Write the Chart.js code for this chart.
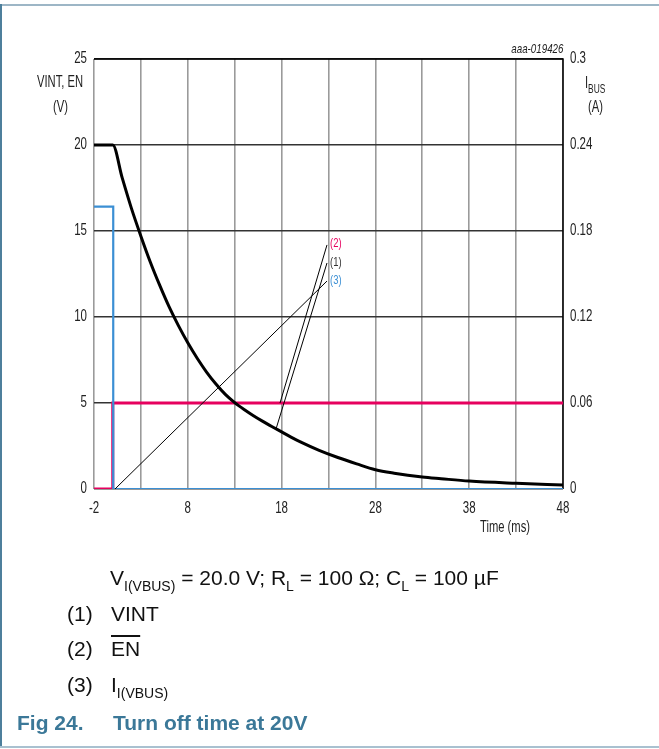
<!DOCTYPE html>
<html>
<head>
<meta charset="utf-8">
<script src="https://cdn.jsdelivr.net/npm/chart.js@4.4.0/dist/chart.umd.min.js"></script>
<style>
  html, body { margin:0; padding:0; background:#fff; }
  #wrap { position:relative; width:659px; height:749px; overflow:hidden; background:#fff; }
  #c { position:absolute; left:0; top:0; }
  .t { position:absolute; white-space:nowrap; color:#222; }
  .narrow { font-family:"Liberation Sans",Arial,sans-serif; font-size:16px; line-height:16px;
            transform:scaleX(0.7); transform-origin:left top; }
  .cap { font-family:"Liberation Sans",Arial,sans-serif; font-size:21px; line-height:21px; color:#111; }
  .cap sub { font-size:14px; vertical-align:-6px; line-height:0; }
  .fig { font-family:"Liberation Sans",Arial,sans-serif; font-weight:bold; font-size:21px; line-height:21px; color:#3b7898; }
  #topline { position:absolute; left:0; top:4px; width:659px; height:2px; background:#9db6c6; }
  #leftline { position:absolute; left:0; top:4px; width:2px; height:744px; background:#4d7f9c; }
  #botline { position:absolute; left:0; top:746px; width:659px; height:2px; background:#a9c1d0; }
</style>
</head>
<body>
<div id="wrap">
  <div id="topline"></div><div id="leftline"></div><div id="botline"></div>
  <canvas id="c" width="659" height="749"></canvas>

  <div class="t narrow" style="left:auto;right:96px;top:41px;font-style:italic;font-size:13px;transform-origin:right top;transform:scaleX(0.75);">aaa-019426</div>
  <div class="t narrow" style="left:37px;top:74px;">VINT, EN</div>
  <div class="t narrow" style="left:53px;top:99px;">(V)</div>
  <div class="t narrow" style="left:585px;top:75px;">I<span style="font-size:12px;position:relative;top:5px;">BUS</span></div>
  <div class="t narrow" style="left:588px;top:99px;">(A)</div>

  <div class="t narrow" style="left:330px;top:235px;font-size:13.5px;color:#e6005e;">(2)</div>
  <div class="t narrow" style="left:330px;top:254px;font-size:13.5px;color:#333;">(1)</div>
  <div class="t narrow" style="left:330px;top:272px;font-size:13.5px;color:#3b8fd4;">(3)</div>

  <div class="t narrow" style="left:480px;top:519px;">Time (ms)</div>

  <div class="t cap" style="left:110px;top:567px;">V<sub>I(VBUS)</sub> = 20.0 V; R<sub>L</sub> = 100 Ω; C<sub>L</sub> = 100 µF</div>
  <div class="t cap" style="left:67px;top:603px;">(1)</div>
  <div class="t cap" style="left:111px;top:603px;">VINT</div>
  <div class="t cap" style="left:67px;top:638px;">(2)</div>
  <div class="t cap" style="left:111px;top:638px;text-decoration:overline;">EN</div>
  <div class="t cap" style="left:67px;top:674px;">(3)</div>
  <div class="t cap" style="left:111px;top:674px;">I<sub>I(VBUS)</sub></div>
  <div class="t fig" style="left:17px;top:712px;">Fig 24.</div>
  <div class="t fig" style="left:113px;top:712px;">Turn off time at 20V</div>
</div>
<script>
// ---- data ----
const timeGrid = [-2, 3, 8, 13, 18, 23, 28, 33, 38, 43, 48];
const timeLabels = [-2, 8, 18, 28, 38, 48];
const voltTicks = [0, 5, 10, 15, 20, 25];
const currTicks = [0, 0.06, 0.12, 0.18, 0.24, 0.3];

// (1) VINT  (V)
const vintTime = [-2, 0, 1, 2, 3, 4, 5, 6, 7, 8, 9, 10, 11, 12, 13, 14, 15, 16, 17, 18, 19, 20, 22, 24, 26, 28, 30, 33, 35, 38, 43, 48];
const vintVolt = [20, 20, 18.1, 16.3, 14.7, 13.2, 11.85, 10.6, 9.5, 8.5, 7.6, 6.8, 6.1, 5.5, 5.02, 4.62, 4.26, 3.93, 3.62, 3.32, 3.02, 2.74, 2.25, 1.83, 1.46, 1.12, 0.92, 0.7, 0.6, 0.46, 0.33, 0.23];

// (2) EN  (V)
const enTime = [-2, 0, 0, 48];
const enVolt = [0, 0, 5, 5];

// (3) I(VBUS)  (A)
const ibusTime = [-2, 0.05, 0.05, 48];
const ibusAmp = [0.197, 0.197, 0, 0];

// leader lines: label end -> curve end (data coords)
const lead2Time = [22.84, 17.83]; const lead2Volt = [14.19, 5.0];
const lead1Time = [22.84, 17.37]; const lead1Volt = [13.14, 3.43];
const lead3Time = [22.84, 0.24];  const lead3Volt = [12.09, 0];

const pts = (xs, ys) => xs.map((x, i) => ({ x: x, y: ys[i] }));
const FONT = '"Liberation Sans",Arial,sans-serif';

// draw the scale's own tick labels horizontally condensed (narrow face look)
function condense(scale, k) {
  scale.drawLabels = function (chartArea) {
    const ctx = this.ctx;
    const items = this.getLabelItems(chartArea);
    for (const item of items) {
      const o = item.options;
      ctx.save();
      ctx.font = item.font.string;
      ctx.translate(o.translation[0], o.translation[1]);
      if (o.rotation) ctx.rotate(o.rotation);
      ctx.scale(k, 1);
      ctx.fillStyle = o.color;
      ctx.textAlign = o.textAlign;
      ctx.textBaseline = o.textBaseline;
      const lines = Array.isArray(item.label) ? item.label : [item.label];
      let y = item.textOffset;
      for (const line of lines) { ctx.fillText(line, 0, y); y += item.font.lineHeight; }
      ctx.restore();
    }
  };
}

const framePlugin = {
  id: 'frame',
  beforeDatasetsDraw(chart) {
    const a = chart.chartArea, ctx = chart.ctx;
    ctx.save();
    ctx.strokeStyle = '#000';
    ctx.lineWidth = 1.5;
    ctx.beginPath();
    ctx.moveTo(a.left, a.top); ctx.lineTo(a.right, a.top); ctx.lineTo(a.right, a.bottom);
    ctx.stroke();
    ctx.restore();
  }
};

const leader = (xs, ys) => ({
  data: pts(xs, ys), borderColor: '#000', borderWidth: 1, pointRadius: 0,
  tension: 0, yAxisID: 'y', order: 0
});

new Chart(document.getElementById('c'), {
  type: 'line',
  data: {
    datasets: [
      { label: 'VINT', data: pts(vintTime, vintVolt), borderColor: '#000', borderWidth: 3,
        pointRadius: 0, cubicInterpolationMode: 'monotone', yAxisID: 'y', order: 1 },
      { label: 'I(VBUS)', data: pts(ibusTime, ibusAmp), borderColor: '#3b8fd4', borderWidth: 2.2,
        pointRadius: 0, tension: 0, yAxisID: 'y2', order: 2 },
      { label: 'EN', data: pts(enTime, enVolt), borderColor: '#e6005e', borderWidth: 3,
        pointRadius: 0, tension: 0, yAxisID: 'y', order: 3 },
      leader(lead2Time, lead2Volt),
      leader(lead1Time, lead1Volt),
      leader(lead3Time, lead3Volt)
    ]
  },
  options: {
    responsive: false,
    devicePixelRatio: 1,
    animation: false,
    layout: { padding: { top: 59, left: 0, right: 0, bottom: 0 } },
    plugins: { legend: { display: false }, tooltip: { enabled: false } },
    scales: {
      x: {
        type: 'linear', position: 'bottom', min: -2, max: 48,
        afterBuildTicks: s => { s.ticks = timeGrid.map(v => ({ value: v })); },
        afterFit: s => { s.height = 260; condense(s, 0.72); },
        grid: { color: '#9a9a9a', lineWidth: 1.6, drawTicks: false },
        border: { display: false },
        ticks: {
          autoSkip: false, maxRotation: 0, padding: 10, color: '#222',
          font: { family: FONT, size: 16 },
          callback: v => timeLabels.includes(v) ? String(v) : ''
        }
      },
      y: {
        type: 'linear', position: 'left', min: 0, max: 25,
        afterBuildTicks: s => { s.ticks = voltTicks.map(v => ({ value: v })); },
        afterFit: s => { s.width = 94; condense(s, 0.72); },
        grid: { color: '#333', lineWidth: 1.4, drawTicks: false },
        border: { display: false },
        ticks: { padding: 7, color: '#222', font: { family: FONT, size: 16 },
                 callback: v => String(v) }
      },
      y2: {
        type: 'linear', position: 'right', min: 0, max: 0.3,
        afterBuildTicks: s => { s.ticks = currTicks.map(v => ({ value: v })); },
        afterFit: s => { s.width = 96; condense(s, 0.72); },
        grid: { display: false, drawTicks: false },
        border: { display: false },
        ticks: { padding: 7, color: '#222', font: { family: FONT, size: 16 },
                 callback: v => String(+v.toFixed(2)) }
      }
    }
  },
  plugins: [framePlugin]
});
</script>
</body>
</html>
